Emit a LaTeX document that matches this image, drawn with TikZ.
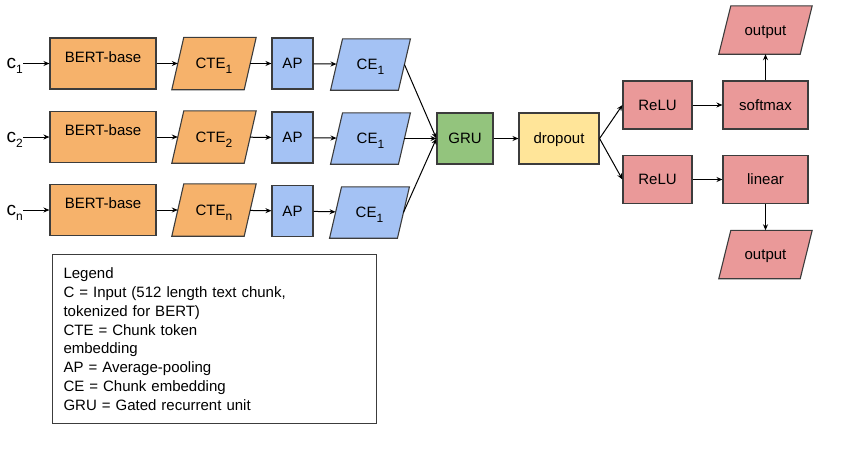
\documentclass[tikz,border=0pt]{standalone}
\usepackage{fontspec}
\setmainfont{Liberation Sans}
\usetikzlibrary{arrows.meta,backgrounds}
\definecolor{corange}{HTML}{F6B26B}
\definecolor{cblue}{HTML}{A4C2F4}
\definecolor{cgreen}{HTML}{93C47D}
\definecolor{cyellow}{HTML}{FFE599}
\definecolor{cred}{HTML}{EA9999}
\definecolor{cborder}{HTML}{3C3C3C}
\newcommand{\lsub}[1]{\raisebox{-5pt}[0pt][0pt]{\fontsize{12}{12}\selectfont #1}}
\begin{document}
\begin{tikzpicture}[x=1pt,y=-1pt,
  base/.style={inner sep=0pt, rectangle,
    font=\fontsize{15}{18}\selectfont, text height=10.5pt, text depth=0pt},
  box/.style={base, draw=cborder, line width=1.1pt},
  para/.style={base},
  pshape/.style={draw=cborder, line width=1.1pt, line join=miter},
  bert/.style={box, fill=corange, minimum width=106pt, minimum height=51pt, text depth=13pt},
  cte/.style={para, minimum width=72pt, minimum height=52pt},
  ap/.style={box, fill=cblue, minimum width=41pt, minimum height=51pt},
  ce/.style={para, minimum width=67.5pt, minimum height=51pt},
  redbox/.style={box, fill=cred, minimum height=48pt},
  outp/.style={para, minimum width=81pt, minimum height=48pt},
  inlbl/.style={inner sep=0pt, anchor=east},
  arr/.style={line width=1pt, -{Stealth[length=6pt,width=5pt]}},
  legend/.style={draw=cborder, line width=1.1pt, fill=white, anchor=north west,
    minimum width=324pt, minimum height=169pt, text width=302pt, inner sep=11pt,
    align=left, font=\fontsize{15}{18.8}\selectfont}
]
\useasboundingbox (0,0) rectangle (868,453);

% inputs
\node[inlbl] (c1) at (23,63.5) {{\fontsize{19}{19}\selectfont c}\lsub{1}};
\node[inlbl] (c2) at (23,137) {{\fontsize{19}{19}\selectfont c}\lsub{2}};
\node[inlbl] (c3) at (23,210) {{\fontsize{19}{19}\selectfont c}\lsub{n}};

% BERT
\node[bert] (b1) at (103,63.5) {BERT-base};
\node[bert] (b2) at (103,137) {BERT-base};
\node[bert] (b3) at (103,210) {BERT-base};

% CTE
\node[cte] (t1) at (214,63.5) {CTE\lsub{1}};
\node[cte] (t2) at (214,137) {CTE\lsub{2}};
\node[cte] (t3) at (214,210) {CTE\lsub{n}};

% AP
\node[ap] (a1) at (292.5,63.5) {AP};
\node[ap] (a2) at (292.5,137.5) {AP};
\node[ap] (a3) at (292.5,211) {AP};

% CE
\node[ce] (e1) at (370.5,64.5) {CE\lsub{1}};
\node[ce] (e2) at (370.5,138.5) {CE\lsub{1}};
\node[ce] (e3) at (369.5,212.5) {CE\lsub{1}};

% GRU, dropout
\node[box, fill=cgreen, minimum width=56pt, minimum height=51pt] (gru) at (465,138.5) {GRU};
\node[box, fill=cyellow, minimum width=80pt, minimum height=51pt] (drop) at (559,138.5) {dropout};

% heads
\node[redbox, minimum width=69pt] (r1) at (657.5,105) {ReLU};
\node[redbox, minimum width=69pt] (r2) at (657.5,179.5) {ReLU};
\node[redbox, minimum width=85pt] (sm) at (765.5,105) {softmax};
\node[redbox, minimum width=85pt] (lin) at (765.5,179.5) {linear};
\node[outp] (o1) at (765.5,30) {output};
\node[outp] (o2) at (765.5,254.5) {output};

% parallelogram outlines behind their texts
\begin{scope}[on background layer]
\foreach \n/\c in {t1/corange,t2/corange,t3/corange,e1/cblue,e2/cblue,e3/cblue,o1/cred,o2/cred}{
  \filldraw[pshape, fill=\c]
    ([xshift=-6pt]\n.south west) -- ([xshift=6pt]\n.north west) --
    ([xshift=6pt]\n.north east) -- ([xshift=-6pt]\n.south east) -- cycle;
}
\end{scope}

% connectors
\foreach \i in {1,2,3}{
  \draw[arr] (c\i.east) -- (b\i.west);
  \draw[arr] (b\i) -- (t\i);
  \draw[arr] (t\i) -- (a\i);
  \draw[arr] (a\i) -- (e\i);
  \draw[arr] (e\i.east) -- (gru.west);
}
\draw[arr] (gru) -- (drop);
\draw[arr] (drop.east) -- (r1.west);
\draw[arr] (drop.east) -- (r2.west);
\draw[arr] (r1) -- (sm);
\draw[arr] (r2) -- (lin);
\draw[arr] (sm) -- (o1);
\draw[arr] (lin) -- (o2);

% legend
\node[legend] (leg) at (52,254) {Legend\\
C = Input (512 length text chunk,\\
tokenized for BERT)\\
CTE = Chunk token\\
embedding\\
AP = Average-pooling\\
CE = Chunk embedding\\
GRU = Gated recurrent unit};
\end{tikzpicture}
\end{document}
